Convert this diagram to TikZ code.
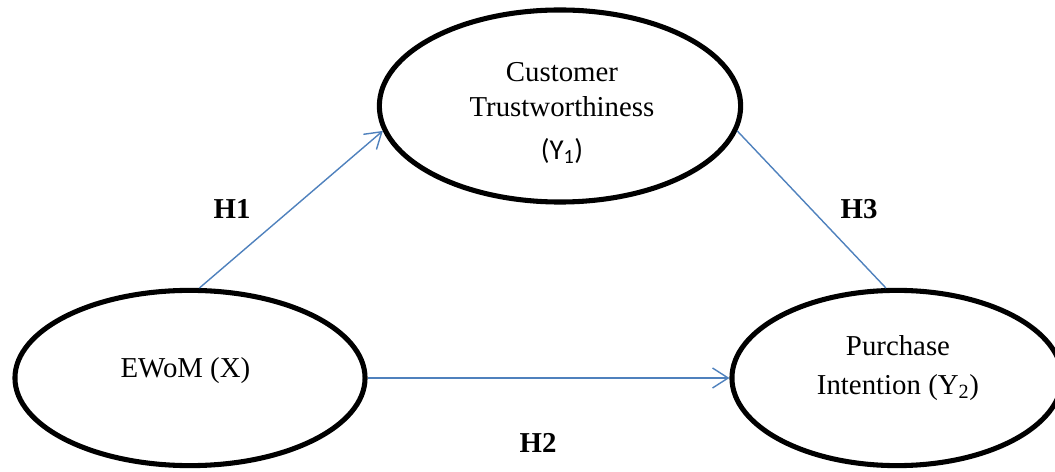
\documentclass[tikz,border=0pt]{standalone}
\usepackage{fontspec}
\setmainfont{Liberation Serif}
\newfontfamily\subfont{Carlito}
\usepackage{tikz}
\usetikzlibrary{arrows.meta,positioning,shapes.geometric}

\definecolor{hypblue}{RGB}{79,129,189}
\tikzset{
  construct/.style={
    ellipse,
    draw=black,
    line width=3.6pt,
    inner sep=0pt
  }
}
\tikzset{
  construct text/.style={
    align=center,
    inner sep=0pt,
    font=\fontsize{20.5}{24}\selectfont
  }
}
\tikzset{
  relation/.style={
    -{Straight Barb[length=3.9mm,width=5mm,line width=1pt]},
    draw=hypblue,
    line width=1pt
  }
}
\tikzset{
  link/.style={
    draw=hypblue,
    line width=1pt
  }
}
\tikzset{
  hyp label/.style={
    font=\fontsize{20.5}{24}\selectfont\bfseries,
    inner sep=0pt
  }
}

\begin{document}
\begin{tikzpicture}[x=0.025cm,y=-0.025cm]

    \useasboundingbox (0,0) rectangle (1055,472);

    % ------------------------------------------------------------
    % Constructs
    % ------------------------------------------------------------

    \node[construct,minimum width=9.03cm,minimum height=4.8cm] (Y1) at (560,106) {};
    \node[construct text] (Y1 text) at (562,113)
    {
      Customer\\[1pt]
      Trustworthiness\\[6pt]
      {\subfont (Y\textsubscript{1})}
    };

    \node[construct,minimum width=8.75cm,minimum height=4.38cm] (X) at (190,378) {};
    \node[construct text] (X text) at (189,371)
    {
      EWoM (X)
    };

    \node[construct,minimum width=8.25cm,minimum height=4.38cm] (Y2) at (897,378) {};
    \node[construct text] (Y2 text) at (898,368)
    {
      Purchase\\[3.7pt]
      Intention (Y\textsubscript{2})
    };

    % ------------------------------------------------------------
    % Paths
    % ------------------------------------------------------------

    \draw[relation] (X.84) -- (Y1.188);

    \draw[relation] (X.east) -- (Y2.west);

    \draw[link] (Y1.-8) -- (Y2.97);

    % ------------------------------------------------------------
    % Hypotheses
    % ------------------------------------------------------------

    \node[hyp label] (H1) at (232,209) {H1};
    \node[hyp label] (H3) at (859,209) {H3};
    \node[hyp label] (H2) at (538,443) {H2};

\end{tikzpicture}
\end{document}
